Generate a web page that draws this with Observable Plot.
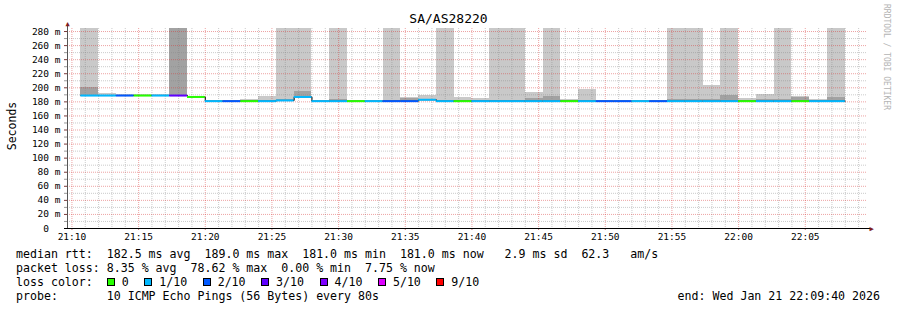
<!DOCTYPE html>
<html><head><meta charset="utf-8">
<script src="https://cdn.jsdelivr.net/npm/d3@7"></script>
<script src="https://cdn.jsdelivr.net/npm/@observablehq/plot@0.6"></script>
<style>
html,body{margin:0;padding:0;background:#fff;}
#wrap{position:relative;width:897px;height:310px;overflow:hidden;font-family:"DejaVu Sans Mono",monospace;background:#fff;}
#wrap svg{position:absolute;left:0;top:0;}
.title{position:absolute;left:0;top:11px;width:897px;text-align:center;font-size:13px;line-height:16px;color:#000;}
.ylab{position:absolute;left:12px;top:126px;font-size:11.5px;line-height:12px;transform:translate(-50%,-50%) rotate(-90deg);white-space:pre;color:#000;}
.brand{position:absolute;left:882px;top:4px;font-size:8px;line-height:9px;writing-mode:vertical-rl;color:#b4b4b4;white-space:pre;}
.leg{position:absolute;left:16px;font-size:11.6px;line-height:14px;white-space:pre;color:#000;}
.box{display:inline-block;width:6px;height:6px;border:1px solid #000;vertical-align:0px;margin-right:7px;}
.item{margin-right:15.5px;}
.end{position:absolute;right:17px;top:289px;font-size:11.6px;line-height:14px;white-space:pre;color:#000;}
</style></head>
<body><div id="wrap"></div>
<script>
// ---------- data ----------
const title = "SA/AS28220";
const yLabel = "Seconds";
const brand = "RRDTOOL / TOBI OETIKER";
const endText = "Wed Jan 21 22:09:40 2026";
const axisEnd = new Date(Date.UTC(2026, 0, 21, 22, 9, 40));
const spanSeconds = 3600;
const firstStep = new Date(Date.UTC(2026, 0, 21, 21, 10, 40));
const stepSeconds = 80;

// median rtt per 80 s step (ms)
const median = [189,189,189,189,189,189,187,181,181,181,181,182,187,181,181,181,181,181,181,183,181,181,181,181,181,181,181,181,181,181,181,181,181,181,181,181,181,181,181,181,181,181,181];
// lost pings out of 10
const loss = [1,1,2,0,1,3,0,1,2,0,1,1,1,1,1,0,1,2,2,1,1,0,1,1,1,1,1,0,1,2,2,1,2,1,1,1,1,0,1,1,0,1,1];
// top of the light smoke (ms); 300 = beyond the top of the graph
const smokeTop = [300,192,190,190,190,300,188,182,182,183,188,300,300,182,300,182,182,300,186,189,300,186,185,300,300,193,300,183,197,182,182,182,182,300,300,203,300,185,190,300,187,183,300];
// top of the dense (dark) smoke (ms)
const smokeDark = [200,189,189,189,189,300,187,181,181,182,182,183,195,181,184,181,181,182,185,184,182,182,182,182,182,185,188,182,182,181,181,181,181,183,183,183,189,182,183,183,186,182,186];

const lossLabels = ["0","1/10","2/10","3/10","4/10","5/10","9/10"];
const lossValues = [0,1,2,3,4,5,9];
const lossColors = ["#26ff00","#00b8ff","#0059ff","#5e00ff","#7e00ff","#dd00ff","#ff0000"];

const xTickLabels = ["21:10","21:15","21:20","21:25","21:30","21:35","21:40","21:45","21:50","21:55","22:00","22:05"];
const yTicks = [0,20,40,60,80,100,120,140,160,180,200,220,240,260,280];
const yTickLabels = ["0","20 m","40 m","60 m","80 m","100 m","120 m","140 m","160 m","180 m","200 m","220 m","240 m","260 m","280 m"];

const legendLines = [
  "median rtt:  182.5 ms avg  189.0 ms max  181.0 ms min  181.0 ms now   2.9 ms sd  62.3   am/s",
  "packet loss: 8.35 % avg  78.62 % max  0.00 % min  7.75 % now"
];
const lossColorLabel = "loss color:";
const probeLine = "probe:       10 ICMP Echo Pings (56 Bytes) every 80s";

// ---------- build ----------
const axisStart = new Date(+axisEnd - spanSeconds * 1000);
const T = i => new Date(+firstStep + i * stepSeconds * 1000);
const colorOf = l => lossColors[lossValues.indexOf(l)];
const steps = median.map((m, i) => ({t0: T(i), t1: T(i + 1), median: m, loss: loss[i], top: smokeTop[i], dark: smokeDark[i]}));
const medianPath = steps.map(d => ({t: d.t0, v: d.median})).concat([{t: steps[steps.length - 1].t1, v: median[median.length - 1]}]);

const xTickDates = xTickLabels.map(s => new Date(`2026-01-21T${s}:00Z`));
const allMinutes = d3.utcMinute.range(axisStart, axisEnd);
const majorMinutes = allMinutes.filter(d => d.getUTCMinutes() % 5 === 0);
const minorMinutes = allMinutes.filter(d => d.getUTCMinutes() % 5 !== 0);
const yTop = 284.3;
const majorY = d3.range(20, yTop, 20);
const minorY = d3.range(10, yTop, 20);
const secPerPx = spanSeconds / 800;
const tickStart = new Date(+axisStart - 3 * secPerPx * 1000);
const xAxisEnd = new Date(+axisEnd + 3 * secPerPx * 1000);
const gridMinor = "rgba(130,130,130,0.42)";
const gridMajor = "rgba(215,50,50,0.45)";

const plot = Plot.plot({
  width: 897, height: 245,
  marginLeft: 67, marginRight: 30, marginTop: 28, marginBottom: 17,
  style: {fontFamily: "'DejaVu Sans Mono', monospace", fontSize: "9.5px", background: "white", color: "#000", overflow: "visible"},
  x: {type: "utc", domain: [axisStart, axisEnd], axis: null},
  y: {domain: [0, yTop], axis: null},
  marks: [
    Plot.rect(steps, {x1: "t0", x2: "t1", y1: "median", y2: "top", fill: "#c9c9c9", clip: true, shapeRendering: "crispEdges"}),
    Plot.rect(steps.filter(d => d.dark > d.median), {x1: "t0", x2: "t1", y1: "median", y2: "dark", fill: "#a2a2a2", clip: true, shapeRendering: "crispEdges"}),
    Plot.ruleX(minorMinutes, {stroke: gridMinor, strokeDasharray: "1,1"}),
    Plot.ruleY(minorY, {stroke: gridMinor, strokeDasharray: "1,1"}),
    Plot.ruleX(majorMinutes, {stroke: gridMajor, strokeDasharray: "1,1"}),
    Plot.ruleY(majorY, {stroke: gridMajor, strokeDasharray: "1,1"}),
    Plot.line(medianPath, {x: "t", y: "v", curve: "step-after", stroke: "#000", strokeWidth: 1}),
    Plot.ruleY(steps, {x1: "t0", x2: "t1", y: "median", stroke: d => colorOf(d.loss), strokeWidth: 2}),
    Plot.ruleY(minorY, {x1: tickStart, x2: axisStart, stroke: "#9a9a9a"}),
    Plot.axisY(yTicks, {tickSize: 3, tickPadding: 4, stroke: "#7a3a3a", fill: "#000",
      tickFormat: (d, i) => yTickLabels[i] === "0" ? "0\u00a0\u00a0" : yTickLabels[i]}),
    Plot.axisX(xTickDates, {tickSize: 2, tickPadding: 3, stroke: "#c08080", fill: "#000",
      tickFormat: (d, i) => xTickLabels[i]}),
    Plot.ruleX([axisStart], {y1: 0, y2: 290, stroke: "#555"}),
    Plot.ruleY([0], {x1: tickStart, x2: xAxisEnd, stroke: "#000"}),
    Plot.text([axisStart], {x: d => d, y: () => 291, text: () => "\u25B2", fill: "#7f1d1d", fontSize: 7, lineAnchor: "middle"}),
    Plot.text([xAxisEnd], {x: d => d, y: () => 0, text: () => "\u25B6", fill: "#7f1d1d", fontSize: 7, lineAnchor: "middle", dx: 1})
  ]
});

const wrap = document.getElementById("wrap");
wrap.appendChild(plot);

function addDiv(cls, text, style) {
  const d = document.createElement("div");
  d.className = cls;
  if (text != null) d.textContent = text;
  if (style) Object.assign(d.style, style);
  wrap.appendChild(d);
  return d;
}
addDiv("title", title);
addDiv("ylab", yLabel);
addDiv("brand", brand);
addDiv("leg", legendLines[0], {top: "247px"});
addDiv("leg", legendLines[1], {top: "261px"});
const l3 = addDiv("leg", null, {top: "275px"});
const lab = document.createElement("span");
lab.textContent = lossColorLabel + "  ";
l3.appendChild(lab);
lossLabels.forEach((s, i) => {
  const b = document.createElement("span");
  b.className = "box";
  b.style.background = lossColors[i];
  l3.appendChild(b);
  const t = document.createElement("span");
  t.className = "item";
  t.textContent = s;
  l3.appendChild(t);
});
addDiv("leg", probeLine, {top: "289px"});
addDiv("end", "end: " + endText);
</script>
</body></html>
